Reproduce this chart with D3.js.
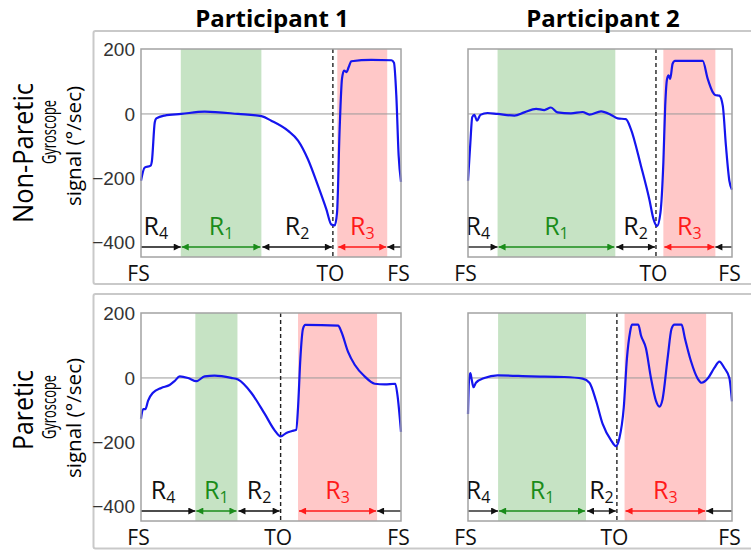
<!DOCTYPE html>
<html>
<head>
<meta charset="utf-8">
<script src="https://cdn.jsdelivr.net/npm/d3@7/dist/d3.min.js"></script>
<style>
  body { margin: 0; background: #fff; }
  svg { display: block; }
</style>
</head>
<body>
<div id="chart"></div>
<script>
const participants = ['Participant 1', 'Participant 2']
const limbs = ['Non-Paretic', 'Paretic']
const yTicks = [200, 0, -200, -400]
const eventLabels = ['FS', 'TO', 'FS']
const phaseNames = ['4', '1', '2', '3']

// gait cycle (%) and gyroscope signal (deg/sec)
const p1NonPareticPct = [0, 1.4, 3.7, 4.2, 5.3, 5.9, 9.1, 15.5, 24.5, 37.3, 46.3, 50.1, 56.5, 60.4, 64.2, 68.1, 71.3, 73.2, 74.5, 75.4, 76.4, 77.3, 78.1, 79, 79.9, 80.9, 88.6, 96.3, 97.3, 98.2, 99.1, 100]
const p1NonPareticSig = [-208, -167, -161, -146, -26, -14, -5, 0, 7, 0, -7, -21, -52, -83, -141, -224, -297, -344, -347, -307, -47, 109, 135, 130, 146, 164, 168, 167, 159, 57, -130, -211]

const p2NonPareticPct = [0, 0.9, 1.6, 2.4, 3.4, 4.7, 7.4, 11.2, 17.6, 21.3, 25.8, 28.9, 31.4, 33.9, 39, 43.4, 46, 50.4, 54.2, 56.7, 59.8, 61.7, 65.5, 68.7, 70.3, 71.6, 72.9, 74, 74.7, 75.4, 76, 76.6, 77.5, 78.4, 88.9, 90.8, 92.7, 93.6, 95.2, 96.5, 97.7, 99, 100]
const p2NonPareticSig = [-208, -89, -10, -3, -21, -3, 3, 0, -5, 5, 16, 12, 20, 5, 2, 6, -2, 8, -3, -14, -16, -47, -161, -266, -328, -349, -307, -151, 26, 109, 120, 109, 156, 165, 165, 109, 68, 59, 57, 26, -99, -208, -236]

const p1PareticPct = [0, 0.8, 1.7, 2.7, 4.6, 7.8, 11, 12.9, 14.9, 18.1, 21.3, 24.5, 28.3, 34.7, 37.3, 42.4, 47.6, 51.4, 53.7, 55.9, 58.1, 59.7, 60.4, 61.3, 62.3, 63.2, 75.8, 77.1, 79.6, 82.2, 86, 89.9, 93.7, 97.8, 98.6, 100]
const p1PareticSig = [-127, -97, -97, -71, -46, -31, -22, -10, 5, 0, -10, 5, 7, 0, -5, -46, -112, -163, -182, -171, -165, -161, -92, 61, 153, 165, 163, 143, 82, 41, 5, -18, -20, -18, -51, -168]

const p2PareticPct = [0, 0.4, 0.9, 1.4, 2.1, 3, 6.2, 11.2, 23.9, 36.5, 43.4, 46, 48.5, 51, 54.2, 56, 57.3, 59, 60.2, 61.4, 62.1, 64.5, 65.5, 67.4, 69.3, 71.2, 72.5, 73.7, 75.6, 77.1, 78.2, 80.9, 82.2, 84.5, 87, 88.5, 90.8, 93.3, 95.2, 97.1, 99, 100]
const p2PareticSig = [-112, -5, 15, -5, -29, -15, 0, 8, 5, 3, -2, -15, -71, -143, -194, -212, -189, -92, 61, 143, 166, 166, 133, 92, 0, -71, -89, -66, 61, 153, 166, 166, 122, 51, -2, -15, -2, 31, 51, 31, 0, -73]

// [R1 start, R1 end, TO, R3 start, R3 end] in % of gait cycle
const p1NonPareticPhases = [15.3, 46.3, 73.8, 75.5, 94.7]
const p2NonPareticPhases = [11.2, 55.8, 71.2, 74, 93.7]
const p1PareticPhases = [20.9, 37.1, 53.7, 60.4, 90.8]
const p2PareticPhases = [11.4, 44.7, 56.4, 59.3, 90.2]

const panels = [
  { row: 0, col: 0, pct: p1NonPareticPct, sig: p1NonPareticSig, phases: p1NonPareticPhases },
  { row: 0, col: 1, pct: p2NonPareticPct, sig: p2NonPareticSig, phases: p2NonPareticPhases },
  { row: 1, col: 0, pct: p1PareticPct, sig: p1PareticSig, phases: p1PareticPhases },
  { row: 1, col: 1, pct: p2PareticPct, sig: p2PareticSig, phases: p2PareticPhases }
]

const width = 751
const height = 550
const colX = [141, 468]
const colW = [260, 264]
const rowY = [49, 313]
const plotH = 208
const colors = { black: '#111', green: '#1a8c1a', red: '#ff1a1a', line: '#1515ee' }
const labelFont = '"Open Sans", sans-serif'

const svg = d3.select('#chart')
  .append('svg')
  .attr('width', width)
  .attr('height', height)

const defs = svg.append('defs')
Object.entries(colors).forEach(([name, color]) => {
  defs.append('marker')
    .attr('id', `arrow-${name}`)
    .attr('viewBox', '0 0 10 10')
    .attr('refX', 10)
    .attr('refY', 5)
    .attr('markerUnits', 'userSpaceOnUse')
    .attr('markerWidth', 8)
    .attr('markerHeight', 7)
    .attr('orient', 'auto-start-reverse')
    .append('path')
    .attr('d', 'M0,0L10,5L0,10z')
    .attr('fill', color)
})

// outer frames of each row
const frames = [[31, 284], [294, 548.5]]
frames.forEach(([top, bottom]) => {
  svg.append('rect')
    .attr('x', 93.5)
    .attr('y', top)
    .attr('width', 700)
    .attr('height', bottom - top)
    .attr('rx', 2)
    .attr('fill', 'none')
    .attr('stroke', '#c9c9c9')
    .attr('stroke-width', 2)
})

participants.forEach((name, i) => {
  svg.append('text')
    .attr('x', i === 0 ? 272 : 603)
    .attr('y', 27)
    .attr('text-anchor', 'middle')
    .style('font-family', labelFont)
    .style('font-weight', 700)
    .style('font-size', '24px')
    .text(name)
})

const rowLabels = [
  { big: 153, bigLen: 140, gyro: 132, signal: 146 },
  { big: 410, bigLen: 80, gyro: 407, signal: 418 }
]
limbs.forEach((limb, i) => {
  const pos = rowLabels[i]
  const rotated = (x, y, size, len, txt) => svg.append('text')
    .attr('transform', `translate(${x},${y}) rotate(-90)`)
    .attr('text-anchor', 'middle')
    .attr('textLength', len)
    .attr('lengthAdjust', 'spacingAndGlyphs')
    .style('font-family', labelFont)
    .style('font-size', size)
    .text(txt)
  rotated(33, pos.big, '28px', pos.bigLen, limb)
  rotated(56, pos.gyro, '20px', 64, 'Gyroscope')
  rotated(81, pos.signal, '20px', 120, 'signal (°/sec)')
})

const drawPanel = p => {
  const w = colW[p.col]
  const [g0, g1, to, r0, r1] = p.phases
  const x = d3.scaleLinear().domain([0, 100]).range([0, w])
  const y = d3.scaleLinear().domain([-445, 202]).range([plotH, 0])

  const g = svg.append('g')
    .attr('transform', `translate(${colX[p.col]},${rowY[p.row]})`)

  g.append('rect')
    .attr('x', x(g0))
    .attr('width', x(g1) - x(g0))
    .attr('height', plotH)
    .attr('fill', '#c6e3c4')
  g.append('rect')
    .attr('x', x(r0))
    .attr('width', x(r1) - x(r0))
    .attr('height', plotH)
    .attr('fill', '#ffc8c8')

  g.append('line')
    .attr('x1', 0)
    .attr('x2', w)
    .attr('y1', y(0))
    .attr('y2', y(0))
    .attr('stroke', '#9a9a9a')
    .attr('stroke-width', 1)

  g.append('line')
    .attr('x1', x(to))
    .attr('x2', x(to))
    .attr('y1', 0)
    .attr('y2', plotH)
    .attr('stroke', '#222')
    .attr('stroke-width', 1.4)
    .attr('stroke-dasharray', '4,3')

  const line = d3.line()
    .x((d, i) => x(p.pct[i]))
    .y(d => y(d))
    .curve(d3.curveMonotoneX)
  g.append('path')
    .datum(p.sig)
    .attr('d', line)
    .attr('fill', 'none')
    .attr('stroke', colors.line)
    .attr('stroke-width', 2.2)

  // phase arrows along the bottom
  const arrowY = plotH - 10
  const arrows = [
    { from: 0, to: g0, color: 'black', both: false },
    { from: g0, to: g1, color: 'green', both: true },
    { from: g1, to: to, color: 'black', both: true },
    { from: r0, to: r1, color: 'red', both: true },
    { from: 100, to: r1, color: 'black', both: false }
  ]
  arrows.forEach(a => {
    const inset = a.both ? 1 : 0
    const dir = a.to > a.from ? 1 : -1
    g.append('line')
      .attr('x1', x(a.from) + inset * dir)
      .attr('x2', x(a.to) - inset * dir)
      .attr('y1', arrowY)
      .attr('y2', arrowY)
      .attr('stroke', colors[a.color])
      .attr('stroke-width', 1.3)
      .attr('marker-end', `url(#arrow-${a.color})`)
      .attr('marker-start', a.both ? `url(#arrow-${a.color})` : null)
  })

  const labels = [
    { at: (0 + g0) / 2, shift: -5, color: colors.black },
    { at: (g0 + g1) / 2, shift: 0, color: colors.green },
    { at: (g1 + to) / 2, shift: 0, color: colors.black },
    { at: (r0 + r1) / 2, shift: 0, color: colors.red }
  ]
  labels.forEach((l, i) => {
    const t = g.append('text')
      .attr('x', x(l.at) + l.shift)
      .attr('y', plotH - 22)
      .attr('text-anchor', 'middle')
      .style('font-family', labelFont)
      .style('font-size', '25px')
      .attr('fill', l.color)
    t.append('tspan').text('R')
    t.append('tspan')
      .attr('dy', 4)
      .style('font-size', '16px')
      .text(phaseNames[i])
  })

  g.append('rect')
    .attr('width', w)
    .attr('height', plotH)
    .attr('fill', 'none')
    .attr('stroke', '#a3a3a3')
    .attr('stroke-width', 1.5)

  if (p.col === 0) {
    const yAxis = g.append('g')
      .call(d3.axisLeft(y).tickValues(yTicks).tickSize(0).tickPadding(6))
    yAxis.select('.domain').remove()
    yAxis.selectAll('text')
      .style('font-family', '"Liberation Sans", Arial, sans-serif')
      .style('font-size', '19px')
      .attr('fill', '#333')
  }

  const xAxis = g.append('g')
    .attr('transform', `translate(0,${plotH})`)
    .call(d3.axisBottom(x)
      .tickValues([0, to, 100])
      .tickFormat((d, i) => eventLabels[i])
      .tickSize(0)
      .tickPadding(9))
  xAxis.select('.domain').remove()
  xAxis.selectAll('text')
    .attr('dx', -3)
    .style('font-family', labelFont)
    .style('font-size', '21px')
    .attr('fill', '#111')
}

panels.forEach(drawPanel)
</script>
</body>
</html>
